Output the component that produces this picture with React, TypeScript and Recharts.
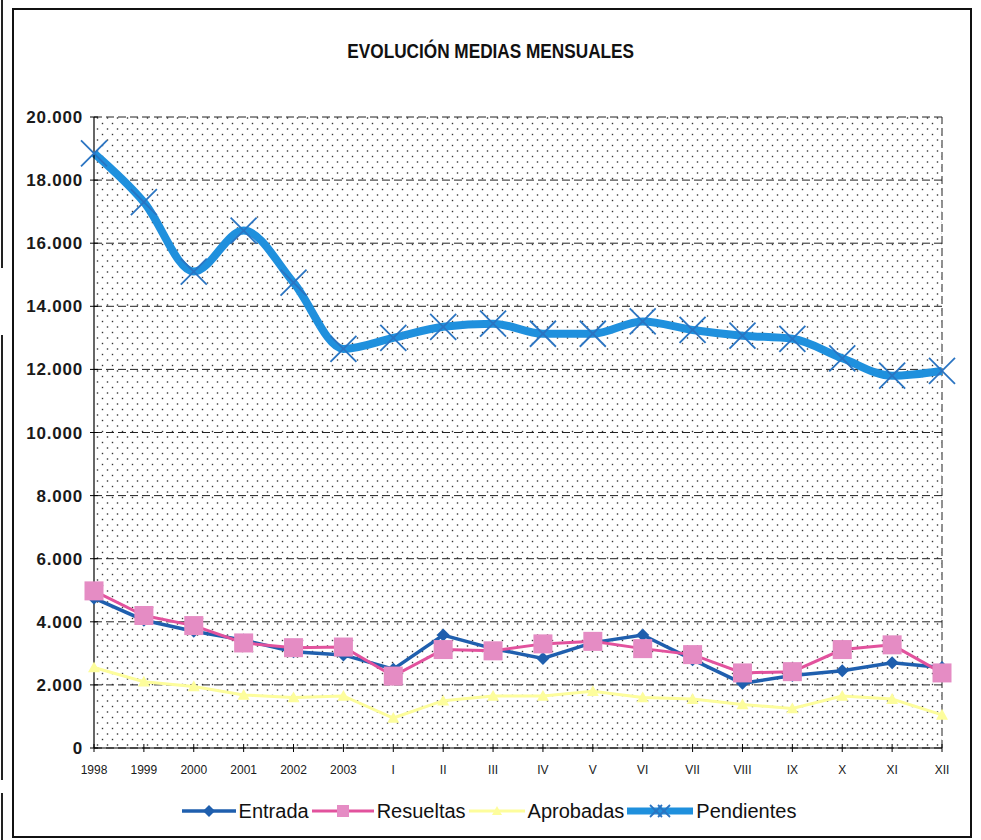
import React from 'react';
import { LineChart, Line, XAxis, YAxis, CartesianGrid, Legend, ReferenceLine } from 'recharts';

const categories = ['1998', '1999', '2000', '2001', '2002', '2003', 'I', 'II', 'III', 'IV', 'V', 'VI', 'VII', 'VIII', 'IX', 'X', 'XI', 'XII'];
const entrada = [4750, 4050, 3700, 3420, 3050, 2950, 2500, 3580, 3150, 2840, 3340, 3580, 2800, 2050, 2300, 2450, 2700, 2550];
const resueltas = [4980, 4200, 3880, 3330, 3180, 3200, 2280, 3120, 3080, 3300, 3380, 3150, 2960, 2380, 2420, 3120, 3270, 2380];
const aprobadas = [2550, 2100, 1950, 1680, 1600, 1650, 950, 1500, 1650, 1650, 1800, 1600, 1550, 1380, 1250, 1650, 1550, 1050];
const pendientes = [18850, 17300, 15100, 16400, 14750, 12650, 13000, 13350, 13450, 13130, 13130, 13520, 13250, 13070, 12970, 12350, 11800, 11950];
const yTicks = [0, 2000, 4000, 6000, 8000, 10000, 12000, 14000, 16000, 18000, 20000];

const data = categories.map((c, i) => ({
  cat: c,
  Entrada: entrada[i],
  Resueltas: resueltas[i],
  Aprobadas: aprobadas[i],
  Pendientes: pendientes[i],
}));

const C_ENTRADA = '#1f5fae';
const C_RES_LINE = '#e2529d';
const C_RES_MARK = '#e58cc4';
const C_APROB = '#fdfd9c';
const C_PEND = '#1f90dd';
const C_PEND_MARK = '#2a74c2';

const ARIAL = "'Liberation Sans', Arial, sans-serif";

const fmt = (v: number) => v.toLocaleString('de-DE');

// tick marks cross the axis line, so draw them in the tick itself
const YTick = (props: any) => {
  const { x, y, payload } = props;
  const ax = x + 4 + 7;
  return (
    <g>
      <line x1={ax - 4} x2={ax + 4} y1={y} y2={y} stroke="#000" strokeWidth={1} />
      <text x={x} y={y} dy={6} textAnchor="end" fontFamily={ARIAL} fontWeight={700} fontSize={17} letterSpacing={0.8} fill="#1a1a1a">
        {fmt(payload.value)}
      </text>
    </g>
  );
};

const XTick = (props: any) => {
  const { x, y, payload } = props;
  const ay = y - 4 - 14;
  return (
    <g>
      <line x1={x} x2={x} y1={ay - 4} y2={ay + 4} stroke="#000" strokeWidth={1} />
      <text x={x} y={y} dy={8} textAnchor="middle" fontFamily={ARIAL} fontSize={12} fill="#1a1a1a">
        {payload.value}
      </text>
    </g>
  );
};

const Diamond = ({ cx, cy, size = 6, fill }: any) => (
  <polygon points={`${cx},${cy - size} ${cx + size},${cy} ${cx},${cy + size} ${cx - size},${cy}`} fill={fill} />
);
const Square = ({ cx, cy, size = 9, fill }: any) => (
  <rect x={cx - size} y={cy - size} width={size * 2} height={size * 2} fill={fill} />
);
const Triangle = ({ cx, cy, size = 6, fill }: any) => (
  <polygon points={`${cx},${cy - size} ${cx + size},${cy + size * 0.8} ${cx - size},${cy + size * 0.8}`} fill={fill} />
);
const Cross = ({ cx, cy, size = 13, stroke }: any) => (
  <g stroke={stroke} strokeWidth={1.8}>
    <line x1={cx - size} y1={cy - size} x2={cx + size} y2={cy + size} />
    <line x1={cx - size} y1={cy + size} x2={cx + size} y2={cy - size} />
  </g>
);

const dotEntrada = (p: any) => <Diamond key={p.index} cx={p.cx} cy={p.cy} size={6.5} fill={C_ENTRADA} />;
const dotRes = (p: any) => <Square key={p.index} cx={p.cx} cy={p.cy} size={9.5} fill={C_RES_MARK} />;
const dotAprob = (p: any) => <Triangle key={p.index} cx={p.cx} cy={p.cy} size={6} fill={C_APROB} />;
const dotPend = (p: any) => <Cross key={p.index} cx={p.cx} cy={p.cy} size={13} stroke={C_PEND_MARK} />;

const legendItems = [
  { name: 'Entrada', width: 54 },
  { name: 'Resueltas', width: 62 },
  { name: 'Aprobadas', width: 56 },
  { name: 'Pendientes', width: 66 },
];

const LegendIcon = ({ name, width }: { name: string; width: number }) => {
  const m = width / 2;
  return (
    <svg width={width} height={24} style={{ display: 'block' }}>
      {name === 'Entrada' && (
        <>
          <line x1={0} x2={width} y1={12} y2={12} stroke={C_ENTRADA} strokeWidth={3.5} />
          <Diamond cx={m} cy={12} size={6} fill={C_ENTRADA} />
        </>
      )}
      {name === 'Resueltas' && (
        <>
          <line x1={0} x2={width} y1={12} y2={12} stroke={C_RES_LINE} strokeWidth={3} />
          <Square cx={m} cy={12} size={6} fill={C_RES_MARK} />
        </>
      )}
      {name === 'Aprobadas' && (
        <>
          <line x1={0} x2={width} y1={12} y2={12} stroke={C_APROB} strokeWidth={3} />
          <Triangle cx={m} cy={12} size={5} fill={C_APROB} />
        </>
      )}
      {name === 'Pendientes' && (
        <>
          <line x1={0} x2={width} y1={12} y2={12} stroke={C_PEND} strokeWidth={7} strokeLinecap="round" />
          <Cross cx={m - 4} cy={12} size={6} stroke={C_PEND_MARK} />
          <Cross cx={m + 4} cy={12} size={6} stroke={C_PEND_MARK} />
        </>
      )}
    </svg>
  );
};

const renderLegend = () => (
  <div style={{ display: 'flex', justifyContent: 'center', alignItems: 'center', height: 30 }}>
    {legendItems.map((it) => (
      <div key={it.name} style={{ display: 'flex', alignItems: 'center', marginRight: 3 }}>
        <LegendIcon name={it.name} width={it.width} />
        <span style={{ fontFamily: ARIAL, fontSize: 20, color: '#111', marginLeft: 3 }}>{it.name}</span>
      </div>
    ))}
  </div>
);

export default function App() {
  return (
    <div style={{ position: 'absolute', left: 0, top: 0, width: 981, height: 840, background: '#fff', overflow: 'hidden' }}>
      {/* bits of neighbouring boxes at the left edge of the scan */}
      <div style={{ position: 'absolute', left: 1, top: 0, width: 2, height: 268, background: '#222' }} />
      <div style={{ position: 'absolute', left: 1, top: 335, width: 2, height: 445, background: '#222' }} />
      <div style={{ position: 'absolute', left: 1, top: 793, width: 2, height: 47, background: '#222' }} />
      <div style={{ position: 'absolute', left: 12, top: 8, width: 960, height: 830, border: '2px solid #111', boxSizing: 'border-box' }} />
      <div style={{ position: 'absolute', left: 0, top: 40, width: 981, textAlign: 'center' }}>
        <span
          style={{
            display: 'inline-block', transform: 'scaleX(0.86)',
            fontFamily: ARIAL, fontWeight: 700, fontSize: 20, color: '#111',
          }}
        >
          EVOLUCIÓN MEDIAS MENSUALES
        </span>
      </div>
      <div style={{ position: 'absolute', left: 0, top: 0 }}>
        <LineChart width={981} height={840} data={data} margin={{ top: 117, right: 39, bottom: 14, left: 0 }}>
          <defs>
            <pattern id="dots" width={10} height={11} patternUnits="userSpaceOnUse">
              <rect x={1.8} y={1.8} width={1.4} height={1.4} fill="#333" />
              <rect x={6.8} y={7.3} width={1.4} height={1.4} fill="#333" />
            </pattern>
          </defs>
          <CartesianGrid vertical={false} stroke="#222" strokeDasharray="8 4" fill="url(#dots)" />
          <ReferenceLine x="XII" stroke="#222" strokeDasharray="8 4" />
          <XAxis
            dataKey="cat"
            height={48}
            interval={0}
            tickSize={4}
            tickMargin={14}
            tickLine={false}
            axisLine={{ stroke: '#000', strokeWidth: 1.2 }}
            tick={<XTick />}
          />
          <YAxis
            width={94}
            domain={[0, 20000]}
            ticks={yTicks}
            interval={0}
            tickSize={4}
            tickMargin={7}
            tickLine={false}
            axisLine={{ stroke: '#000', strokeWidth: 1.2 }}
            tick={<YTick />}
          />
          <Legend
            verticalAlign="bottom"
            height={30}
            wrapperStyle={{ left: 0, width: 981 }}
            content={renderLegend}
          />
          <Line dataKey="Entrada" type="linear" stroke={C_ENTRADA} strokeWidth={3.5} dot={dotEntrada} activeDot={false} isAnimationActive={false} />
          <Line dataKey="Resueltas" type="linear" stroke={C_RES_LINE} strokeWidth={3} dot={dotRes} activeDot={false} isAnimationActive={false} />
          <Line dataKey="Aprobadas" type="linear" stroke={C_APROB} strokeWidth={3} dot={dotAprob} activeDot={false} isAnimationActive={false} />
          <Line dataKey="Pendientes" type="monotone" stroke={C_PEND} strokeWidth={8} dot={dotPend} activeDot={false} isAnimationActive={false} />
        </LineChart>
      </div>
    </div>
  );
}
